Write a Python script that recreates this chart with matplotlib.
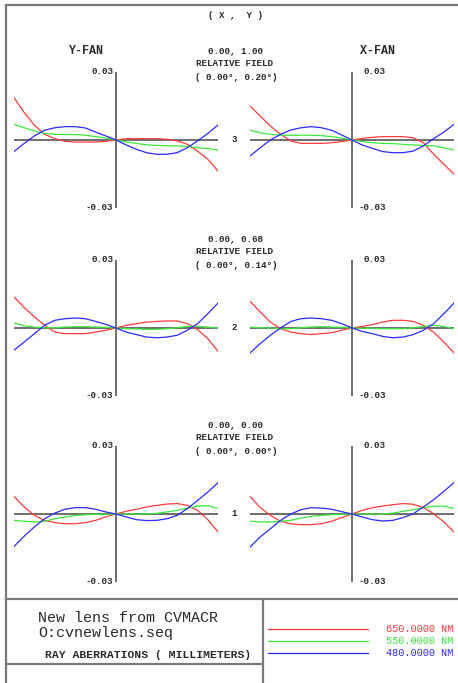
import matplotlib
matplotlib.use("Agg")
import matplotlib.pyplot as plt

plt.rcParams.update({"font.family": "Liberation Mono"})

# ---- data: ray aberrations (mm) vs normalized pupil ----
pupil = [-1.0, -0.9, -0.8, -0.7, -0.6, -0.5, -0.4, -0.3, -0.2, -0.1, 0.0,
         0.1, 0.2, 0.3, 0.4, 0.5, 0.6, 0.7, 0.8, 0.9, 1.0]

# field 1.00 (top row)
y_red_100 = [0.0187, 0.0121, 0.0065, 0.0025, 0.0006, -0.0006, -0.0009, -0.0009, -0.0009, -0.0006, 0.0,
             0.0006, 0.0006, 0.0006, 0.0006, 0.0003, -0.0004, -0.0019, -0.0049, -0.0085, -0.0137]
y_grn_100 = [0.0069, 0.0054, 0.0040, 0.0029, 0.0025, 0.0024, 0.0024, 0.0021, 0.0015, 0.0009, 0.0,
             -0.0009, -0.0015, -0.0021, -0.0024, -0.0025, -0.0026, -0.0028, -0.0034, -0.0038, -0.0044]
y_blu_100 = [-0.0051, -0.0015, 0.0018, 0.0043, 0.0054, 0.0059, 0.0059, 0.0053, 0.0035, 0.0018, 0.0,
             -0.0022, -0.0041, -0.0056, -0.0063, -0.0063, -0.0056, -0.0034, -0.0004, 0.0029, 0.0066]
x_red_100 = [0.0150, 0.0106, 0.0062, 0.0025, -0.0004, -0.0015, -0.0015, -0.0015, -0.0012, -0.0007, 0.0,
             0.0007, 0.0012, 0.0015, 0.0015, 0.0015, 0.0010, -0.0012, -0.0063, -0.0107, -0.0151]
x_grn_100 = [0.0043, 0.0032, 0.0025, 0.0021, 0.0021, 0.0021, 0.0021, 0.0019, 0.0015, 0.0009, 0.0,
             -0.0007, -0.0012, -0.0015, -0.0016, -0.0019, -0.0022, -0.0024, -0.0026, -0.0034, -0.0044]
x_blu_100 = [-0.0071, -0.0034, 0.0000, 0.0025, 0.0044, 0.0054, 0.0059, 0.0054, 0.0043, 0.0022, 0.0,
             -0.0022, -0.0037, -0.0051, -0.0056, -0.0056, -0.0049, -0.0026, 0.0006, 0.0035, 0.0069]

# field 0.68 (middle row)
y_red_068 = [0.0137, 0.0090, 0.0049, 0.0012, -0.0018, -0.0025, -0.0025, -0.0025, -0.0018, -0.0010, 0.0,
             0.0012, 0.0019, 0.0026, 0.0029, 0.0031, 0.0031, 0.0019, -0.0007, -0.0047, -0.0103]
y_grn_068 = [0.0022, 0.0010, 0.0004, 0.0001, 0.0001, 0.0004, 0.0006, 0.0006, 0.0004, 0.0003, 0.0,
             -0.0003, -0.0004, -0.0006, -0.0006, -0.0003, 0.0001, 0.0007, 0.0007, 0.0004, 0.0000]
y_blu_068 = [-0.0098, -0.0062, -0.0025, 0.0012, 0.0034, 0.0041, 0.0044, 0.0041, 0.0029, 0.0016, 0.0,
             -0.0018, -0.0029, -0.0040, -0.0043, -0.0040, -0.0032, -0.0010, 0.0019, 0.0063, 0.0110]
x_red_068 = [0.0118, 0.0071, 0.0026, -0.0003, -0.0018, -0.0025, -0.0029, -0.0025, -0.0021, -0.0010, 0.0,
             0.0007, 0.0015, 0.0026, 0.0034, 0.0034, 0.0029, 0.0012, -0.0018, -0.0062, -0.0110]
x_grn_068 = [0.0004, 0.0001, 0.0000, -0.0003, -0.0003, 0.0001, 0.0004, 0.0006, 0.0004, 0.0003, 0.0,
             -0.0001, -0.0001, -0.0003, -0.0003, -0.0003, 0.0001, 0.0007, 0.0012, 0.0007, -0.0003]
x_blu_068 = [-0.0110, -0.0069, -0.0032, 0.0000, 0.0029, 0.0041, 0.0044, 0.0041, 0.0034, 0.0019, 0.0,
             -0.0015, -0.0025, -0.0037, -0.0043, -0.0040, -0.0029, -0.0010, 0.0019, 0.0063, 0.0110]

# field 0.00 (bottom row)
y_red_000 = [0.0078, 0.0031, -0.0006, -0.0028, -0.0038, -0.0043, -0.0043, -0.0038, -0.0028, -0.0013, 0.0,
             0.0012, 0.0021, 0.0031, 0.0038, 0.0044, 0.0046, 0.0038, 0.0016, -0.0025, -0.0079]
y_grn_000 = [-0.0028, -0.0032, -0.0035, -0.0032, -0.0021, -0.0013, -0.0007, -0.0003, -0.0001, -0.0001, 0.0,
             0.0000, 0.0000, 0.0000, 0.0003, 0.0009, 0.0016, 0.0026, 0.0035, 0.0037, 0.0024]
y_blu_000 = [-0.0143, -0.0098, -0.0057, -0.0021, 0.0004, 0.0021, 0.0028, 0.0028, 0.0021, 0.0009, 0.0,
             -0.0013, -0.0025, -0.0029, -0.0028, -0.0021, -0.0006, 0.0024, 0.0060, 0.0097, 0.0138]
x_red_000 = [0.0078, 0.0028, -0.0006, -0.0032, -0.0043, -0.0047, -0.0047, -0.0043, -0.0032, -0.0016, 0.0,
             0.0016, 0.0028, 0.0035, 0.0041, 0.0046, 0.0043, 0.0028, 0.0001, -0.0035, -0.0079]
x_grn_000 = [-0.0032, -0.0035, -0.0035, -0.0032, -0.0028, -0.0018, -0.0010, -0.0006, -0.0003, -0.0001, 0.0,
             0.0000, 0.0000, 0.0000, 0.0004, 0.0012, 0.0019, 0.0028, 0.0034, 0.0035, 0.0024]
x_blu_000 = [-0.0146, -0.0101, -0.0065, -0.0028, 0.0000, 0.0019, 0.0028, 0.0026, 0.0021, 0.0010, 0.0,
             -0.0013, -0.0025, -0.0031, -0.0028, -0.0016, 0.0001, 0.0031, 0.0063, 0.0100, 0.0138]

wavelengths = ["650.0000 NM", "550.0000 NM", "480.0000 NM"]
wave_colors = ["#ff3b3b", "#3be83b", "#2b2bff"]
field_rel = ["0.00, 1.00", "0.00, 0.68", "0.00, 0.00"]
field_deg = ["( 0.00\u00b0, 0.20\u00b0)", "( 0.00\u00b0, 0.14\u00b0)", "( 0.00\u00b0, 0.00\u00b0)"]
field_num = ["3", "2", "1"]
scale_max = 0.03

rows = [
    ([y_red_100, y_grn_100, y_blu_100], [x_red_100, x_grn_100, x_blu_100]),
    ([y_red_068, y_grn_068, y_blu_068], [x_red_068, x_grn_068, x_blu_068]),
    ([y_red_000, y_grn_000, y_blu_000], [x_red_000, x_grn_000, x_blu_000]),
]

W, H = 458, 683
fig = plt.figure(figsize=(W / 100, H / 100), dpi=100)

# background axes in pixel coords for frame + text
bg = fig.add_axes([0, 0, 1, 1])
bg.set_xlim(0, W)
bg.set_ylim(H, 0)
bg.axis("off")

FRAME = "#7a7a7a"
TXT = "#2a2a2a"
bg.plot([6, W], [5, 5], color=FRAME, lw=1.6)
bg.plot([6, 6], [5, H], color=FRAME, lw=1.6)
bg.plot([6, W], [599, 599], color=FRAME, lw=1.6)
bg.plot([6, 263], [664, 664], color=FRAME, lw=1.6)
bg.plot([263, 263], [599, H], color=FRAME, lw=1.6)

small = dict(fontsize=6.7, fontweight="bold", color=TXT, family="Liberation Mono")
bg.text(236, 15, "( X ,  Y )", ha="center", va="center", **small)
bg.text(86, 51, "Y-FAN", ha="center", va="center", fontsize=8.4, fontweight="bold", color=TXT)
bg.text(378, 51, "X-FAN", ha="center", va="center", fontsize=8.4, fontweight="bold", color=TXT)

row_tops = [72, 260, 446]
col_lefts = [14, 250]
ax_w, ax_h = 204, 136

for r, (yfan, xfan) in enumerate(rows):
    top = row_tops[r]
    zero_y = top + ax_h / 2
    head_y = top - 20
    bg.text(236, head_y, field_rel[r], ha="center", va="center", **small)
    bg.text(234, head_y + 11, "RELATIVE FIELD", ha="center", va="center", **small)
    bg.text(236, head_y + 25, field_deg[r], ha="center", va="center", **small)
    bg.text(234, zero_y, field_num[r], ha="center", va="center", **small)

    for c, fan in enumerate([yfan, xfan]):
        left = col_lefts[c]
        ax = fig.add_axes([left / W, 1 - (top + ax_h) / H, ax_w / W, ax_h / H])
        ax.set_xlim(-1, 1)
        ax.set_ylim(-scale_max, scale_max)
        ax.axis("off")
        ax.axhline(0, color="#555555", lw=1.2, zorder=1)
        ax.axvline(0, color="#555555", lw=1.2, zorder=1)
        for vals, col in zip(fan, wave_colors):
            ax.plot(pupil, vals, color=col, lw=0.9, zorder=2)
        axis_x = left + ax_w / 2
        if c == 0:
            bg.text(axis_x - 3, top, f"{scale_max:.2f}", ha="right", va="center", **small)
            bg.text(axis_x - 3, top + ax_h, f"-{scale_max:.2f}", ha="right", va="center", **small)
        else:
            bg.text(axis_x + 11, top, f"{scale_max:.2f}", ha="left", va="center", **small)
            bg.text(axis_x + 6, top + ax_h, f"-{scale_max:.2f}", ha="left", va="center", **small)

# title block
bg.text(38, 618, "New lens from CVMACR", ha="left", va="center", fontsize=10.8, color=TXT)
bg.text(38, 633, "O:cvnewlens.seq", ha="left", va="center", fontsize=10.8, color=TXT)
bg.text(45, 655, "RAY ABERRATIONS ( MILLIMETERS)", ha="left", va="center",
        fontsize=8.2, fontweight="bold", color=TXT)

# legend
for i, (lab, col) in enumerate(zip(wavelengths, wave_colors)):
    yy = 629 + 12 * i
    bg.plot([268, 368], [yy, yy], color=col, lw=0.9)
    bg.text(453, yy, lab, ha="right", va="center", fontsize=7.4, color=col)

fig.savefig("out.png", dpi=100)
